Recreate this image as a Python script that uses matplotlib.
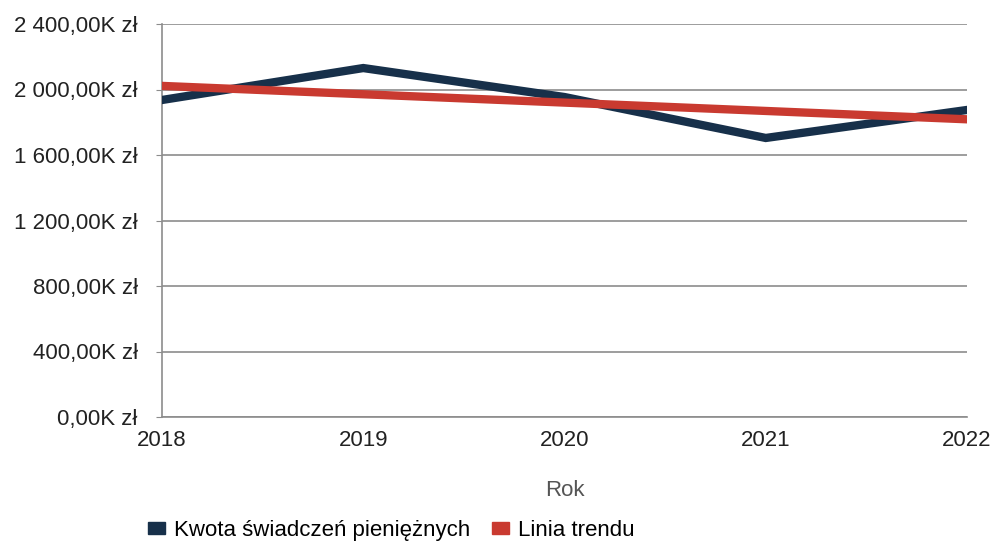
import matplotlib
matplotlib.use("Agg")
import matplotlib.pyplot as plt
from matplotlib.ticker import FuncFormatter
from matplotlib.patches import Patch

plt.rcParams['font.family'] = ['Liberation Sans', 'DejaVu Sans']

years = [2018, 2019, 2020, 2021, 2022]
kwota = [1936, 2131, 1954, 1704, 1875]  # K zł
trend_years = [2018, 2022]
trend_vals = [2022, 1818]
yticks = [0, 400, 800, 1200, 1600, 2000, 2400]

navy = '#17304a'
red = '#c93a30'
grid = '#8c8c8c'
fs = 16

fig = plt.figure(figsize=(9.91, 5.44), dpi=100)
ax = fig.add_axes([162/991, 1-417/544, (967-162)/991, (417-24)/544])

ax.plot(years, kwota, color=navy, lw=6, solid_joinstyle='miter', zorder=3)
ax.plot(trend_years, trend_vals, color=red, lw=6, zorder=4)

ax.set_xlim(2018, 2022)
ax.set_ylim(0, 2400)
ax.set_yticks(yticks)
ax.set_xticks(years)

def fmt(v, p):
    s = f"{v:,.2f}".replace(",", " ").replace(".", ",")
    return s + "K zł"
ax.yaxis.set_major_formatter(FuncFormatter(fmt))
ax.grid(axis='y', color=grid, lw=1.2)
ax.set_axisbelow(True)
for s in ['top', 'right']:
    ax.spines[s].set_visible(False)
ax.spines['left'].set_color(grid)
ax.spines['bottom'].set_color(grid)
ax.spines['left'].set_linewidth(1.2)
ax.spines['bottom'].set_linewidth(1.2)
ax.tick_params(axis='y', length=4, color=grid, labelsize=fs, labelcolor='#222222', pad=13.5)
ax.tick_params(axis='x', length=0, labelsize=fs, labelcolor='#222222', pad=9)
ax.set_xlabel('Rok', fontsize=fs, color='#555555', labelpad=21)

handles = [Patch(color=navy), Patch(color=red)]
fig.legend(handles, ['Kwota świadczeń pieniężnych', 'Linia trendu'],
           loc='center', bbox_to_anchor=(0.395, 0.025), ncol=2, frameon=False,
           fontsize=fs, handlelength=0.75, handleheight=0.5, handletextpad=0.4,
           columnspacing=1.0)

fig.savefig('out.png', dpi=100)
